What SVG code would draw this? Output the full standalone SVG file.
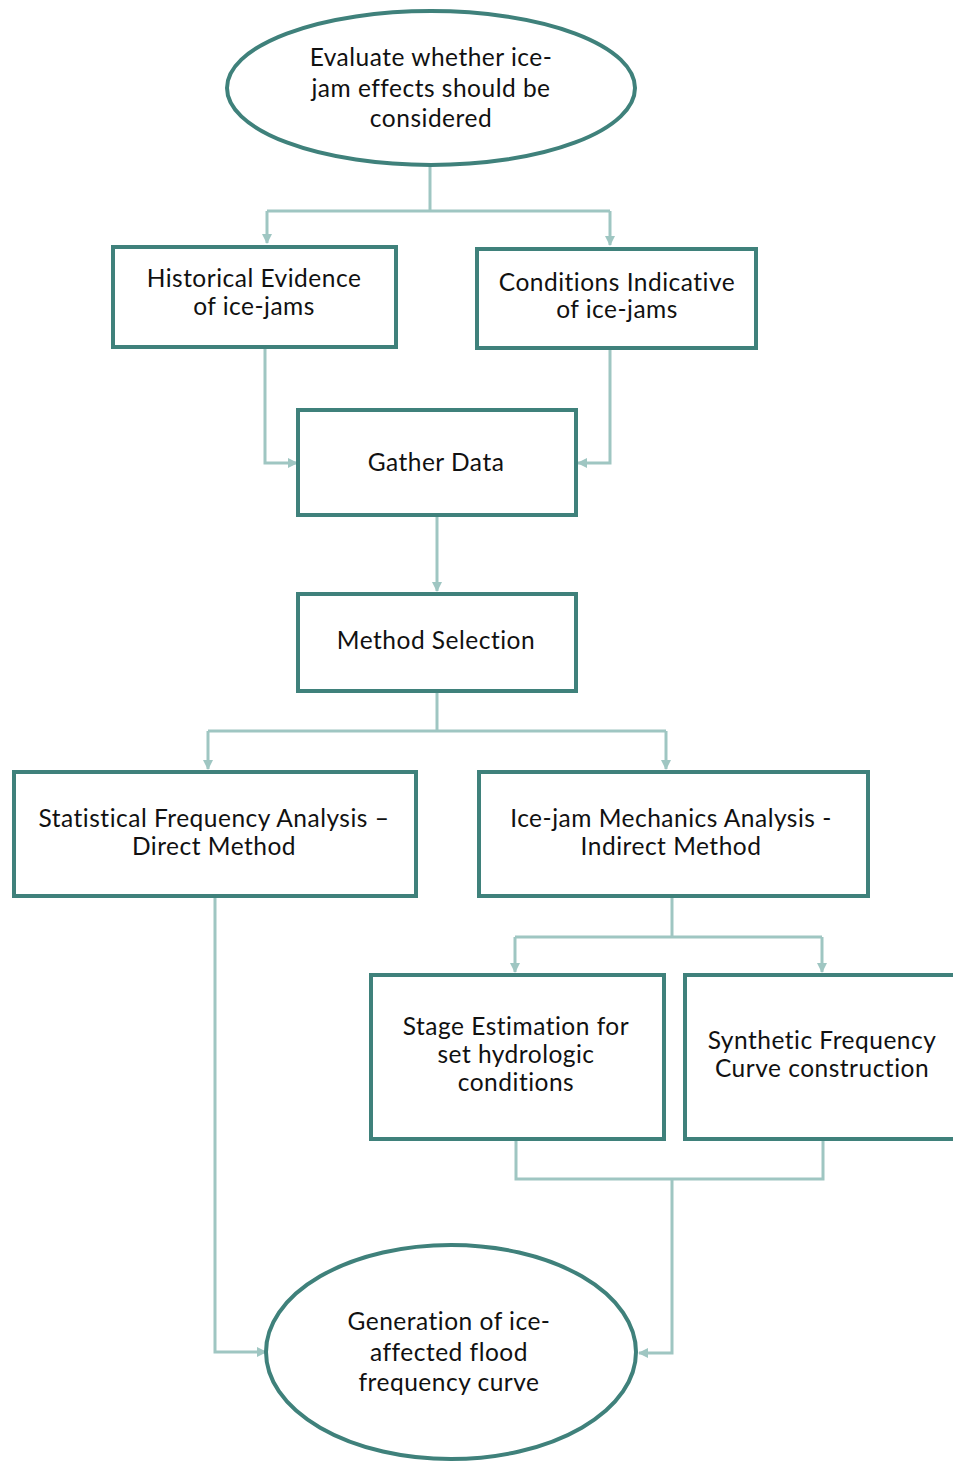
<svg xmlns="http://www.w3.org/2000/svg" width="953" height="1461" viewBox="0 0 953 1461">
<defs>
<marker id="arr" viewBox="0 0 10 10" refX="9" refY="5" markerWidth="10" markerHeight="10" markerUnits="userSpaceOnUse" orient="auto">
<path d="M0,0 L10,5 L0,10 z" fill="#9fc6c2"/>
</marker>
<style>
.node{fill:#ffffff;stroke:#3f817b;stroke-width:4}
.t{font-family:"Lato","Liberation Sans",sans-serif;font-size:24.5px;letter-spacing:0.5px;fill:#111111;text-anchor:middle}
.c{fill:none;stroke:#9fc6c2;stroke-width:3}
</style>
</defs>
<rect width="953" height="1461" fill="#ffffff"/>
<g id="connectors">
<path class="c" d="M430,165 V211"/>
<path class="c" d="M267,211 H610"/>
<path class="c" d="M267,211 V243" marker-end="url(#arr)"/>
<path class="c" d="M610,211 V245" marker-end="url(#arr)"/>
<path class="c" d="M265,347 V463 H297" marker-end="url(#arr)"/>
<path class="c" d="M610,348 V463 H578" marker-end="url(#arr)"/>
<path class="c" d="M437,515 V591" marker-end="url(#arr)"/>
<path class="c" d="M437,691 V731"/>
<path class="c" d="M208,731 H666"/>
<path class="c" d="M208,731 V769" marker-end="url(#arr)"/>
<path class="c" d="M666,731 V769" marker-end="url(#arr)"/>
<path class="c" d="M672,896 V938"/>
<path class="c" d="M515,937 H822"/>
<path class="c" d="M515,937 V972" marker-end="url(#arr)"/>
<path class="c" d="M822,937 V972" marker-end="url(#arr)"/>
<path class="c" d="M516,1139 V1179 H823 V1139"/>
<path class="c" d="M672,1179 V1353 H639" marker-end="url(#arr)"/>
<path class="c" d="M215,896 V1352 H266" marker-end="url(#arr)"/>
</g>
<g id="evaluate">
<ellipse class="node" cx="431" cy="88" rx="204" ry="77"/>
<text class="t" x="431" y="66">Evaluate whether ice-</text>
<text class="t" x="431" y="97">jam effects should be</text>
<text class="t" x="431" y="127">considered</text>
</g>
<g id="historical">
<rect class="node" x="113" y="247" width="283" height="100"/>
<text class="t" x="254" y="287">Historical Evidence</text>
<text class="t" x="254" y="315">of ice-jams</text>
</g>
<g id="conditions">
<rect class="node" x="477" y="249" width="279" height="99"/>
<text class="t" x="617" y="291">Conditions Indicative</text>
<text class="t" x="617" y="318">of ice-jams</text>
</g>
<g id="gather">
<rect class="node" x="298" y="410" width="278" height="105"/>
<text class="t" x="436" y="471">Gather Data</text>
</g>
<g id="method">
<rect class="node" x="298" y="594" width="278" height="97"/>
<text class="t" x="436" y="649">Method Selection</text>
</g>
<g id="statistical">
<rect class="node" x="14" y="772" width="402" height="124"/>
<text class="t" x="214" y="827">Statistical Frequency Analysis –</text>
<text class="t" x="214" y="855">Direct Method</text>
</g>
<g id="icejam">
<rect class="node" x="479" y="772" width="389" height="124"/>
<text class="t" x="671" y="827">Ice-jam Mechanics Analysis -</text>
<text class="t" x="671" y="855">Indirect Method</text>
</g>
<g id="stage">
<rect class="node" x="371" y="975" width="293" height="164"/>
<text class="t" x="516" y="1035">Stage Estimation for</text>
<text class="t" x="516" y="1063">set hydrologic</text>
<text class="t" x="516" y="1091">conditions</text>
</g>
<g id="synthetic">
<rect class="node" x="685" y="975" width="272" height="164"/>
<text class="t" x="822" y="1049">Synthetic Frequency</text>
<text class="t" x="822" y="1077">Curve construction</text>
</g>
<g id="generation">
<ellipse class="node" cx="451" cy="1352" rx="185" ry="107"/>
<text class="t" x="449" y="1330">Generation of ice-</text>
<text class="t" x="449" y="1361">affected flood</text>
<text class="t" x="449" y="1391">frequency curve</text>
</g>
</svg>
